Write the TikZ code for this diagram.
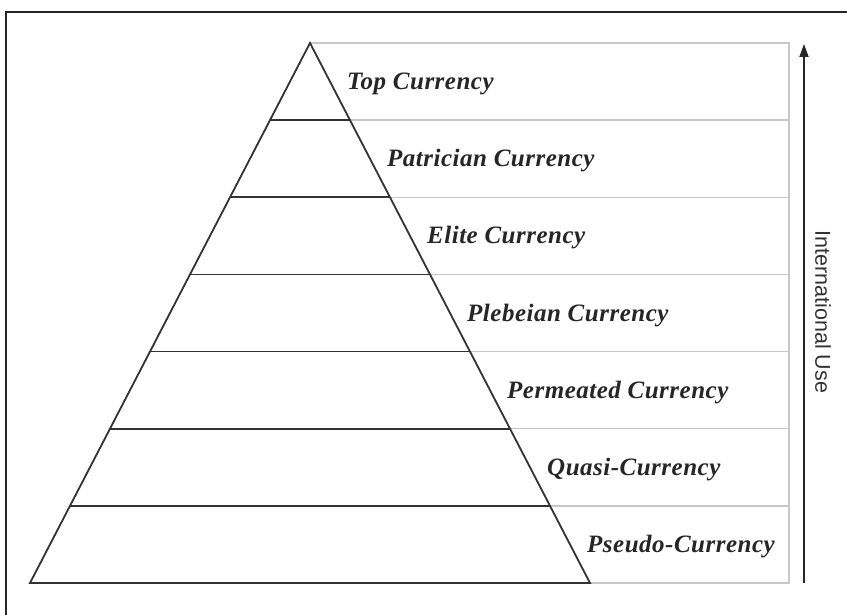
\documentclass[tikz,border=0pt]{standalone}
\usepackage{fontspec}
\setmainfont{Liberation Serif}
\setsansfont{Liberation Sans}
\usetikzlibrary{calc,arrows.meta}
\begin{document}
\begin{tikzpicture}[x=1pt,y=-1pt,
  lvl/.style={black!80, line width=1.8pt},
  gridline/.style={black!22, line width=1.4pt},
  lab/.style={anchor=base west, font=\fontsize{25}{30}\selectfont\bfseries\itshape\addfontfeatures{LetterSpace=2}, text=black!85, inner sep=0pt},
  axislabel/.style={font=\sffamily\fontsize{21.5}{26}\selectfont, text=black!80, rotate=-90, inner sep=0pt}
  ]
\useasboundingbox (0,0) rectangle (847,615);
% frame
\coordinate (F1) at (6,640);
\coordinate (F2) at (6,12.5);
\coordinate (F3) at (880,12.5);
\draw[line width=2pt, black!85] (F1) -- (F2) -- (F3);
% pyramid corners
\coordinate (A) at (310,43);
\coordinate (BL) at (30,583);
\coordinate (BR) at (590,583);
\coordinate (RT) at (789,43);
\coordinate (RB) at (789,583);
% grey table
\draw[gridline] (A) -- (RT) -- (RB) -- (BR);
\foreach \i in {1,...,6}{
  \coordinate (L\i) at ($(A)!\i/7!(BL)$);
  \coordinate (R\i) at ($(A)!\i/7!(BR)$);
  \draw[gridline] (R\i) -- (R\i -| RT);
  \draw[lvl] (L\i) -- (R\i);
}
\draw[lvl, line join=miter] (BL) -- (A) -- (BR) -- cycle;
% labels
\foreach \t [count=\k from 0] in {Top Currency, Patrician Currency, Elite Currency, Plebeian Currency, Permeated Currency, Quasi-Currency, Pseudo-Currency}{
  \coordinate (M\k) at ($(A)!{(\k+0.5)/7}!(BR)$);
  \node[lab] (lab\k) at ($(M\k)+(17,8)$) {\t};
}
% arrow
\coordinate (arB) at (804,583);
\coordinate (arT) at (804,44);
\draw[-{Triangle[length=13pt,width=9pt]}, line width=1.8pt, black!85] (arB) -- (arT);
\node[axislabel] (iu) at (823,312) {International Use};
\end{tikzpicture}
\end{document}
